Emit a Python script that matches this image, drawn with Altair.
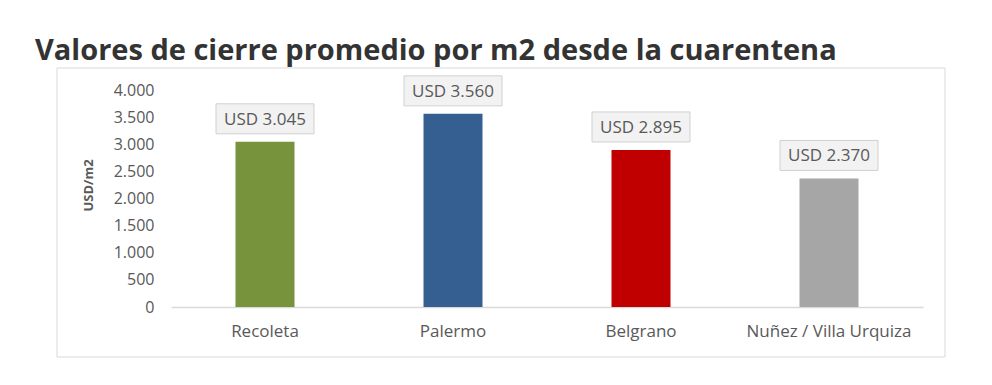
import altair as alt
import pandas as pd

categories = ["Recoleta", "Palermo", "Belgrano", "Nuñez / Villa Urquiza"]
values = [3045, 3560, 2895, 2370]
colors = ["#77933c", "#365f91", "#c00000", "#a6a6a6"]
y_ticks = [0, 500, 1000, 1500, 2000, 2500, 3000, 3500, 4000]

labels = ["USD " + f"{v:,}".replace(",", ".") for v in values]
df = pd.DataFrame({"cat": categories, "val": values, "label": labels})

FONT = "Open Sans"
GRAY = "#595959"

x_enc = alt.X("cat:N", sort=categories, title=None,
              scale=alt.Scale(paddingInner=0, paddingOuter=0),
              axis=alt.Axis(labelAngle=0, labelFont=FONT, labelFontSize=17, labelColor=GRAY,
                            labelPadding=16, ticks=False, domainColor="#d9d9d9", domainWidth=1.5,
                            grid=False))
y_scale = alt.Scale(domain=[0, 4000], nice=False)
y_enc = alt.Y("val:Q", scale=y_scale, title="USD/m2",
              axis=alt.Axis(values=y_ticks, grid=False, domain=False, ticks=False,
                            labelOverlap=False,
                            labelExpr="replace(format(datum.value, ','), ',', '.')",
                            labelFont=FONT, labelFontSize=16, labelColor=GRAY, labelPadding=17,
                            titleFont=FONT, titleFontSize=13, titleFontWeight="bold", titleColor=GRAY,
                            titleAngle=-90, titleX=-83, titleY=95, titleAlign="center",
                            titleBaseline="middle"))

border = alt.Chart(pd.DataFrame({"a": [0]})).mark_rect(
    fill=None, stroke="#d9d9d9", strokeWidth=1
).encode(x=alt.value(-114), x2=alt.value(774), y=alt.value(-22), y2=alt.value(267))

base = alt.Chart(df).encode(x=x_enc, y=y_enc)

bars = base.mark_bar(size=59).encode(
    color=alt.Color("cat:N", scale=alt.Scale(domain=categories, range=colors), legend=None),
)

boxes = base.mark_bar(
    size=98, fill="#f2f2f2", stroke="#d0d0d0", strokeWidth=1,
    yOffset=-38, y2Offset=-8
).encode(y2="val:Q")

texts = base.mark_text(
    font=FONT, fontSize=17, color=GRAY, baseline="middle", align="center", yOffset=-22
).encode(text="label:N")

chart = alt.layer(border, bars, boxes, texts).properties(
    width=752, height=217,
    autosize=alt.AutoSizeParams(type="none"),
    padding={"left": 163, "top": 82, "right": 50, "bottom": 60},
    title=alt.TitleParams("Valores de cierre promedio por m2 desde la cuarentena",
                          anchor="start", frame="group", font=FONT, fontSize=29, fontWeight="bold",
                          color="#333333", dx=-136, offset=2),
).configure_view(stroke=None)

chart.save("out.html", embed_options={"renderer": "svg", "actions": False})
